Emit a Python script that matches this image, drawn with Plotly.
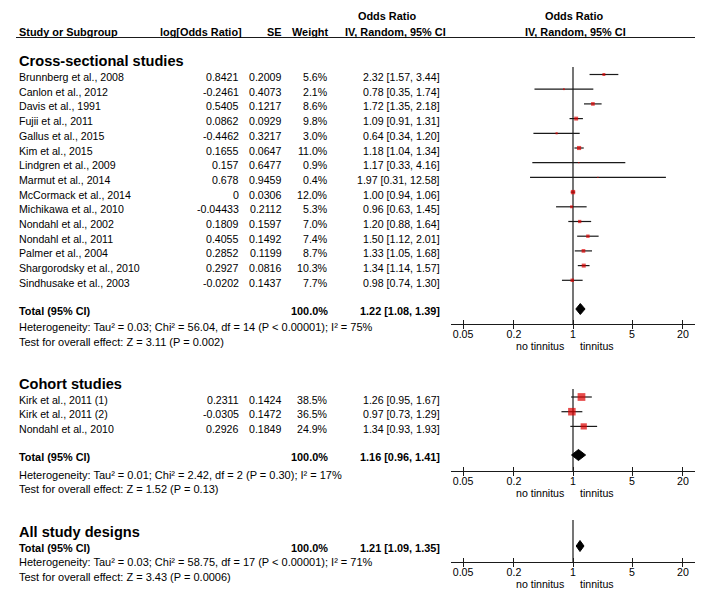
"""Forest plot: odds ratios for tinnitus by study design."""
import plotly.graph_objects as go

# ---- data -------------------------------------------------------------
cs_studies = ["Brunnberg et al., 2008", "Canlon et al., 2012", "Davis et al., 1991",
              "Fujii et al., 2011", "Gallus et al., 2015", "Kim et al., 2015",
              "Lindgren et al., 2009", "Marmut et al., 2014", "McCormack et al., 2014",
              "Michikawa et al., 2010", "Nondahl et al., 2002", "Nondahl et al., 2011",
              "Palmer et al., 2004", "Shargorodsky et al., 2010", "Sindhusake et al., 2003"]
cs_log_or = [0.8421, -0.2461, 0.5405, 0.0862, -0.4462, 0.1655, 0.157, 0.678, 0,
             -0.04433, 0.1809, 0.4055, 0.2852, 0.2927, -0.0202]
cs_se = [0.2009, 0.4073, 0.1217, 0.0929, 0.3217, 0.0647, 0.6477, 0.9459, 0.0306,
         0.2112, 0.1597, 0.1492, 0.1199, 0.0816, 0.1437]
cs_weight = [5.6, 2.1, 8.6, 9.8, 3.0, 11.0, 0.9, 0.4, 12.0, 5.3, 7.0, 7.4, 8.7, 10.3, 7.7]
cs_or = [2.32, 0.78, 1.72, 1.09, 0.64, 1.18, 1.17, 1.97, 1.00, 0.96, 1.20, 1.50, 1.33, 1.34, 0.98]
cs_lo = [1.57, 0.35, 1.35, 0.91, 0.34, 1.04, 0.33, 0.31, 0.94, 0.63, 0.88, 1.12, 1.05, 1.14, 0.74]
cs_hi = [3.44, 1.74, 2.18, 1.31, 1.20, 1.34, 4.16, 12.58, 1.06, 1.45, 1.64, 2.01, 1.68, 1.57, 1.30]

co_studies = ["Kirk et al., 2011 (1)", "Kirk et al., 2011 (2)", "Nondahl et al., 2010"]
co_log_or = [0.2311, -0.0305, 0.2926]
co_se = [0.1424, 0.1472, 0.1849]
co_weight = [38.5, 36.5, 24.9]
co_or = [1.26, 0.97, 1.34]
co_lo = [0.95, 0.73, 0.93]
co_hi = [1.67, 1.29, 1.93]

totals = {"cs": (1.22, 1.08, 1.39), "co": (1.16, 0.96, 1.41), "all": (1.21, 1.09, 1.35)}
het_text = {
    "cs": "Heterogeneity: Tau² = 0.03; Chi² = 56.04, df = 14 (P < 0.00001); I² = 75%",
    "co": "Heterogeneity: Tau² = 0.01; Chi² = 2.42, df = 2 (P = 0.30); I² = 17%",
    "all": "Heterogeneity: Tau² = 0.03; Chi² = 58.75, df = 17 (P < 0.00001); I² = 71%",
}
test_text = {
    "cs": "Test for overall effect: Z = 3.11 (P = 0.002)",
    "co": "Test for overall effect: Z = 1.52 (P = 0.13)",
    "all": "Test for overall effect: Z = 3.43 (P = 0.0006)",
}
tick_vals = [0.05, 0.2, 1, 5, 20]
tick_text = ["0.05", "0.2", "1", "5", "20"]

# ---- layout constants (page pixels) -------------------------------------
W, H = 714, 602
OFF = 8  # page body margin: figure starts 8px in from the window corner
FONT = "Liberation Sans, Arial, sans-serif"
FS, FS_B, FS_H, FS_S = 10.6, 10.9, 14.6, 11
INK = "#1a1a1a"
RED = "#dd0000"
AX_DOM = [(451 - OFF) / W, (695 - OFF) / W]
LOG_RANGE = [-1.444, 1.444]
COL_LOG, COL_SE, COL_W, COL_OR = 241, 284, 330, 442
ROW = 14.7

fig = go.Figure()
ann = []


def px(x):
    return (x - OFF) / W


def txt(x, y, s, anchor="left", bold=False, size=None):
    ann.append(dict(x=px(x), y=y, xref="paper", yref="y", text=f"<b>{s}</b>" if bold else s,
                    showarrow=False, xanchor=anchor, yanchor="middle",
                    font=dict(family=FONT, size=size or (FS_B if bold else FS), color="black")))


def ci_text(o, l, h):
    return f"{o:.2f} [{l:.2f}, {h:.2f}]"


# header
txt(17, 32, "Study or Subgroup", bold=True)
txt(244, 32, "log[Odds Ratio]", "right", bold=True)
txt(COL_SE, 32, "SE", "right", bold=True)
txt(COL_W, 32, "Weight", "right", bold=True)
txt(387, 16, "Odds Ratio", "center", bold=True)
txt(395, 32, "IV, Random, 95% CI", "center", bold=True)
txt(574, 16, "Odds Ratio", "center", bold=True)
txt(575, 32, "IV, Random, 95% CI", "center", bold=True)

panels = [
    dict(key="cs", title="Cross-sectional studies", title_y=61, row0=77, total_y=311,
         het_y=327, test_y=342, axis_y=324, top=67,
         studies=cs_studies, log_or=cs_log_or, se=cs_se, w=cs_weight, o=cs_or, lo=cs_lo, hi=cs_hi),
    dict(key="co", title="Cohort studies", title_y=384, row0=399.5, total_y=457,
         het_y=475, test_y=489, axis_y=471, top=389,
         studies=co_studies, log_or=co_log_or, se=co_se, w=co_weight, o=co_or, lo=co_lo, hi=co_hi),
    dict(key="all", title="All study designs", title_y=532, row0=None, total_y=548,
         het_y=562, test_y=577, axis_y=562, top=520, studies=[]),
]

for k, p in enumerate(panels):
    xa = "x" if k == 0 else f"x{k + 1}"
    xo = f"x{k + 4}"
    txt(17, p["title_y"], p["title"], bold=True, size=FS_H)

    # study rows
    ys = [p["row0"] + i * ROW for i in range(len(p["studies"]))]
    for i, s in enumerate(p["studies"]):
        y = ys[i]
        txt(17, y, s)
        txt(COL_LOG, y, f"{p['log_or'][i]:g}", "right")
        txt(COL_SE, y, f"{p['se'][i]:.4f}", "right")
        txt(COL_W, y, f"{p['w'][i]:.1f}%", "right")
        txt(COL_OR, y, ci_text(p["o"][i], p["lo"][i], p["hi"][i]), "right")

    # reference line at OR = 1
    fig.add_trace(go.Scatter(x=[1, 1], y=[p["top"], p["axis_y"]], xaxis=xa, yaxis="y",
                             mode="lines", line=dict(color=INK, width=1.2),
                             hoverinfo="skip", showlegend=False))

    if p["studies"]:
        cx, cy = [], []
        for i in range(len(ys)):
            cx += [p["lo"][i], p["hi"][i], None]
            cy += [ys[i] - 2.5, ys[i] - 2.5, None]
        fig.add_trace(go.Scatter(x=cx, y=cy, xaxis=xa, yaxis="y", mode="lines",
                                 line=dict(color=INK, width=1.2), hoverinfo="skip",
                                 showlegend=False))
        fig.add_trace(go.Scatter(x=p["o"], y=[y - 2.5 for y in ys], xaxis=xa, yaxis="y",
                                 mode="markers",
                                 marker=dict(symbol="square", color=RED,
                                             size=[max(1.3, 1.25 * w ** 0.5) for w in p["w"]],
                                             line=dict(width=0)),
                                 showlegend=False))

    # pooled estimate
    o, lo, hi = totals[p["key"]]
    dy = p["total_y"] - 2
    fig.add_trace(go.Scatter(x=[lo, o, hi, o, lo], y=[dy, dy - 5.5, dy, dy + 5.5, dy],
                             xaxis=xa, yaxis="y", mode="lines", fill="toself",
                             fillcolor="black", line=dict(color="black", width=1),
                             hoverinfo="skip", showlegend=False))
    txt(17, p["total_y"], "Total (95% CI)", bold=True)
    txt(COL_W, p["total_y"], "100.0%", "right", bold=True)
    txt(COL_OR, p["total_y"], ci_text(o, lo, hi), "right", bold=True)
    txt(17, p["het_y"], het_text[p["key"]], size=FS_S)
    txt(17, p["test_y"], test_text[p["key"]], size=FS_S)

    # axes: labelled axis with inside ticks + overlay with outside ticks,
    # so the tick marks cross the axis line
    pos = 1 - (p["axis_y"] - OFF) / H
    common = dict(type="log", range=LOG_RANGE, domain=AX_DOM, anchor="free", position=pos,
                  tickmode="array", tickvals=tick_vals, showgrid=False, zeroline=False,
                  ticklen=3.5, tickwidth=1.2, tickcolor=INK, fixedrange=True)
    fig.update_layout({
        ("xaxis" if k == 0 else f"xaxis{k + 1}"): dict(
            common, ticktext=tick_text, ticks="inside", showline=True, linecolor=INK,
            linewidth=1.2, tickfont=dict(family=FONT, size=FS, color="black")),
        f"xaxis{k + 4}": dict(common, overlaying=xa, ticks="outside", showticklabels=False,
                              showline=False),
    })
    fig.add_trace(go.Scatter(x=[1], y=[-50], xaxis=xo, yaxis="y", mode="markers",
                             marker=dict(opacity=0), hoverinfo="skip", showlegend=False))

    txt(566, p["axis_y"] + 22, "no tinnitus", "right")
    txt(578, p["axis_y"] + 22, "tinnitus", "left")

fig.update_layout(
    width=W, height=H, margin=dict(l=0, r=0, t=0, b=0),
    paper_bgcolor="white", plot_bgcolor="rgba(0,0,0,0)",
    yaxis=dict(domain=[0, 1], range=[H + OFF, OFF], visible=False, fixedrange=True),
    annotations=ann,
    shapes=[dict(type="line", xref="paper", yref="y", x0=px(16), x1=px(695),
                 y0=37.5, y1=37.5, line=dict(color=INK, width=1.2))],
)

fig.write_html("out.html")
